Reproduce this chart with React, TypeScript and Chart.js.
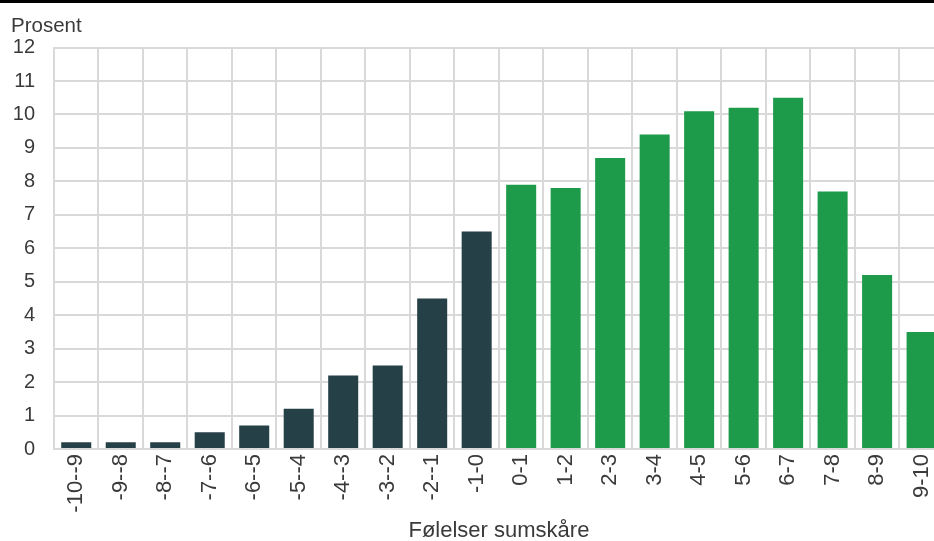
import React, { useEffect, useRef } from "react";
import { Chart, registerables } from "chart.js";

Chart.register(...registerables);

// Score intervals on the x axis
const categories: string[] = [
  "-10--9", "-9--8", "-8--7", "-7--6", "-6--5", "-5--4", "-4--3", "-3--2", "-2--1", "-1-0",
  "0-1", "1-2", "2-3", "3-4", "4-5", "5-6", "6-7", "7-8", "8-9", "9-10",
];

// Share of respondents (percent) in each interval
const shares: number[] = [
  0.2, 0.2, 0.2, 0.5, 0.7, 1.2, 2.2, 2.5, 4.5, 6.5,
  7.9, 7.8, 8.7, 9.4, 10.1, 10.2, 10.5, 7.7, 5.2, 3.5,
];

const yTicks: number[] = [0, 1, 2, 3, 4, 5, 6, 7, 8, 9, 10, 11, 12];

const NEGATIVE_COLOR = "#264047";
const POSITIVE_COLOR = "#1e9b4a";
const GRID_COLOR = "#d9d9d9";
const TEXT_COLOR = "#3a3a3a";
const FONT_FAMILY = "'Liberation Sans', Arial, sans-serif";

export default function App() {
  const canvasRef = useRef<HTMLCanvasElement | null>(null);

  useEffect(() => {
    const canvas = canvasRef.current;
    if (!canvas) return;

    const colors = categories.map((c) => (c.startsWith("-") ? NEGATIVE_COLOR : POSITIVE_COLOR));

    const chart = new Chart(canvas, {
      type: "bar",
      data: {
        labels: categories,
        datasets: [
          {
            label: "Prosent",
            data: shares,
            backgroundColor: colors,
            borderWidth: 0,
            categoryPercentage: 1,
            barPercentage: 0.675,
          },
        ],
      },
      options: {
        responsive: false,
        animation: false,
        devicePixelRatio: 1,
        layout: { padding: { left: 11, right: 0, top: 0, bottom: 0 } },
        plugins: {
          legend: { display: false },
          tooltip: { enabled: false },
          title: {
            display: true,
            text: "Prosent",
            align: "start",
            color: TEXT_COLOR,
            font: { family: FONT_FAMILY, size: 20.5, weight: "normal" },
            padding: { top: 14, bottom: 9 },
          },
        },
        scales: {
          x: {
            type: "category",
            afterFit: (scale: any) => {
              scale.height = 92;
            },
            grid: {
              display: true,
              offset: true,
              color: GRID_COLOR,
              lineWidth: 2,
              drawTicks: false,
            },
            border: { display: true, color: GRID_COLOR, width: 2 },
            ticks: {
              color: TEXT_COLOR,
              font: { family: FONT_FAMILY, size: 22 },
              minRotation: 90,
              maxRotation: 90,
              autoSkip: false,
              padding: 5,
            },
            title: {
              display: true,
              text: "Følelser sumskåre",
              color: TEXT_COLOR,
              font: { family: FONT_FAMILY, size: 22 },
              padding: { top: 4, bottom: -3 },
            },
          },
          y: {
            min: 0,
            max: 12,
            afterFit: (scale: any) => {
              scale.width = 43;
            },
            afterBuildTicks: (scale: any) => {
              scale.ticks = yTicks.map((v) => ({ value: v }));
            },
            grid: {
              color: GRID_COLOR,
              lineWidth: 2,
              drawTicks: false,
            },
            border: { display: true, color: GRID_COLOR, width: 2 },
            ticks: {
              color: TEXT_COLOR,
              font: { family: FONT_FAMILY, size: 20 },
              padding: 19,
            },
          },
        },
      },
    });

    return () => chart.destroy();
  }, []);

  return (
    <div
      style={{
        position: "fixed",
        left: 0,
        top: 0,
        width: 934,
        height: 541,
        overflow: "hidden",
        background: "#ffffff",
      }}
    >
      <div
        style={{
          position: "absolute",
          left: 0,
          top: 0,
          width: "100%",
          height: 3,
          background: "#000000",
          zIndex: 1,
        }}
      />
      <canvas
        ref={canvasRef}
        width={953}
        height={541}
        style={{ position: "absolute", left: 0, top: 0, width: 953, height: 541 }}
      />
    </div>
  );
}
